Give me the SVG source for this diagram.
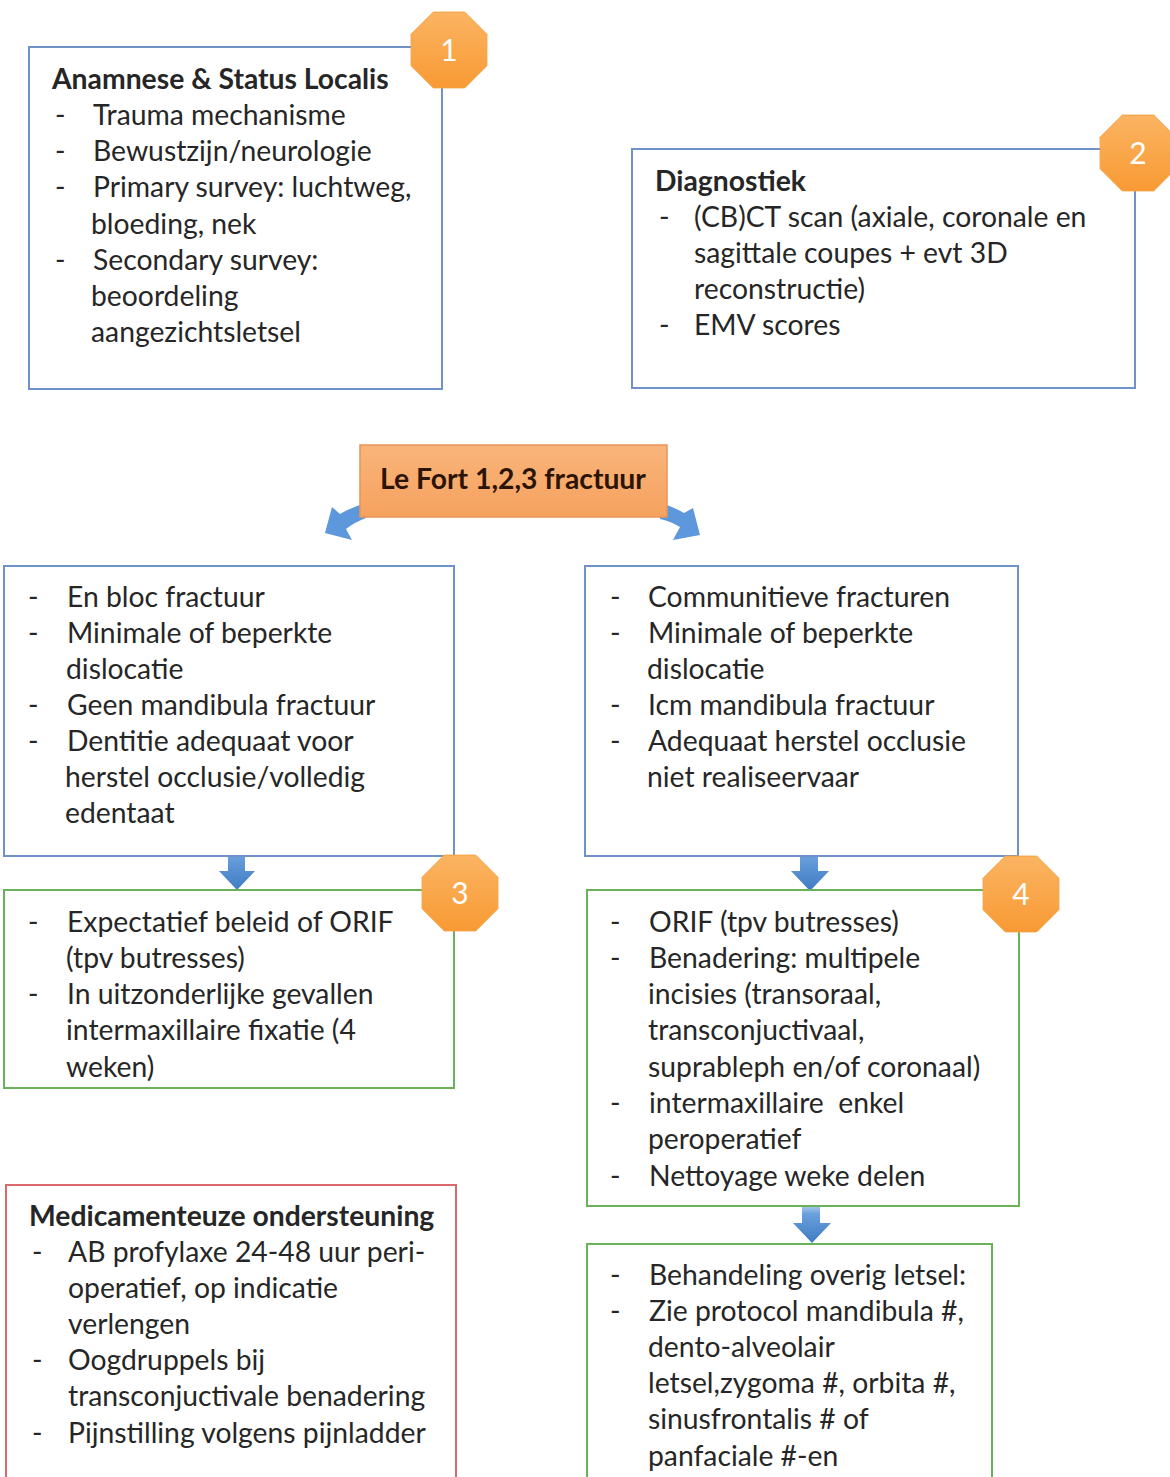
<svg xmlns="http://www.w3.org/2000/svg" width="1170" height="1477" viewBox="0 0 1170 1477">
<defs>
<style>
text{font-family:Lato,"Open Sans","Liberation Sans",sans-serif;font-size:28.3px;fill:#262626}
.b{font-weight:bold}
.box{fill:#fff;stroke-width:2}
.blue{stroke:#6f93c9}
.green{stroke:#6ab25a}
.red{stroke:#dd6a6a}
.num{font-size:30px;fill:#fff;text-anchor:middle}
.badge{fill:url(#og);stroke:#f5a040;stroke-width:1}
.arr{fill:url(#bg)}
.carr{fill:#5d98dc}
</style>
<linearGradient id="og" x1="0" y1="0" x2="0" y2="1"><stop offset="0" stop-color="#fbb462"/><stop offset="1" stop-color="#f89a34"/></linearGradient>
<linearGradient id="bg" x1="0" y1="0" x2="0" y2="1"><stop offset="0" stop-color="#8fb8e6" stop-opacity="0.3"/><stop offset="0.35" stop-color="#6aa0dc"/><stop offset="1" stop-color="#3f7cc4"/></linearGradient>
<linearGradient id="lg" x1="0" y1="0" x2="0" y2="1"><stop offset="0" stop-color="#f9b47a"/><stop offset="1" stop-color="#f6a25f"/></linearGradient>
<polygon id="oct" points="15.7,-37.9 37.9,-15.7 37.9,15.7 15.7,37.9 -15.7,37.9 -37.9,15.7 -37.9,-15.7 -15.7,-37.9"/>
</defs>
<rect width="1170" height="1477" fill="#fff"/>

<g id="connectors">
<path class="carr" d="M366,503 Q352,507 340,514 L332,507 L325,533 L352,540 L346,529 Q355,522 366,518 Z"/>
<path class="carr" d="M660,503 Q672,506 684,513 L693,508 L700,535 L673,540 L680,527 Q670,521 660,519 Z"/>
<path class="arr" d="M228,836 L245,836 L245,871 L255,871 L237,890 L219,871 L228,871 Z"/>
<path class="arr" d="M800,836 L818,836 L818,871 L829,871 L810,891 L791,871 L800,871 Z"/>
<path class="arr" d="M802,1198 L820,1198 L820,1223 L831,1223 L812,1243 L793,1223 L802,1223 Z"/>
</g>

<g id="box1">
<rect class="box blue" x="29" y="47" width="413" height="342"/>
<text class="b" x="52" y="89">Anamnese &amp; Status Localis</text>
<text x="55" y="125">-</text><text x="93" y="125">Trauma mechanisme</text>
<text x="55" y="161">-</text><text x="93" y="161">Bewustzijn/neurologie</text>
<text x="55" y="197">-</text><text x="93" y="197">Primary survey: luchtweg,</text>
<text x="91" y="234">bloeding, nek</text>
<text x="55" y="270">-</text><text x="93" y="270">Secondary survey:</text>
<text x="91" y="306">beoordeling</text>
<text x="91" y="342">aangezichtsletsel</text>
</g>
<g id="badge1"><use href="#oct" class="badge" transform="translate(449,50)"/><text class="num" x="449" y="61">1</text></g>

<g id="box2">
<rect class="box blue" x="632" y="149" width="503" height="239"/>
<text class="b" x="655" y="191">Diagnostiek</text>
<text x="659" y="227">-</text><text x="694" y="227">(CB)CT scan (axiale, coronale en</text>
<text x="694" y="263">sagittale coupes + evt 3D</text>
<text x="694" y="299">reconstructie)</text>
<text x="659" y="335">-</text><text x="694" y="335">EMV scores</text>
</g>
<g id="badge2"><use href="#oct" class="badge" transform="translate(1138,153)"/><text class="num" x="1138" y="164">2</text></g>

<g id="lefort">
<rect x="360" y="445" width="307" height="72" fill="url(#lg)" stroke="#e8955a" stroke-width="1.5"/>
<text class="b" x="513" y="489" text-anchor="middle" style="fill:#2b1406">Le Fort 1,2,3 fractuur</text>
</g>

<g id="box3">
<rect class="box blue" x="4" y="566" width="450" height="290"/>
<text x="28" y="607">-</text><text x="67" y="607">En bloc fractuur</text>
<text x="28" y="643">-</text><text x="67" y="643">Minimale of beperkte</text>
<text x="66" y="679">dislocatie</text>
<text x="28" y="715">-</text><text x="67" y="715">Geen mandibula fractuur</text>
<text x="28" y="751">-</text><text x="67" y="751">Dentitie adequaat voor</text>
<text x="65" y="787">herstel occlusie/volledig</text>
<text x="65" y="823">edentaat</text>
</g>

<g id="box4">
<rect class="box blue" x="585" y="566" width="433" height="290"/>
<text x="610" y="607">-</text><text x="648" y="607">Communitieve fracturen</text>
<text x="610" y="643">-</text><text x="648" y="643">Minimale of beperkte</text>
<text x="647" y="679">dislocatie</text>
<text x="610" y="715">-</text><text x="648" y="715">Icm mandibula fractuur</text>
<text x="610" y="751">-</text><text x="648" y="751">Adequaat herstel occlusie</text>
<text x="647" y="787">niet realiseervaar</text>
</g>

<g id="box5">
<rect class="box green" x="4" y="890" width="450" height="198"/>
<text x="28" y="932">-</text><text x="67" y="932">Expectatief beleid of ORIF</text>
<text x="66" y="968">(tpv butresses)</text>
<text x="28" y="1004">-</text><text x="67" y="1004">In uitzonderlijke gevallen</text>
<text x="66" y="1040">intermaxillaire fixatie (4</text>
<text x="66" y="1077">weken)</text>
</g>
<g id="badge3"><use href="#oct" class="badge" transform="translate(460,893)"/><text class="num" x="460" y="904">3</text></g>

<g id="box6">
<rect class="box green" x="587" y="890" width="432" height="316"/>
<text x="610" y="932">-</text><text x="649" y="932">ORIF (tpv butresses)</text>
<text x="610" y="968">-</text><text x="649" y="968">Benadering: multipele</text>
<text x="648" y="1004">incisies (transoraal,</text>
<text x="648" y="1040">transconjuctivaal,</text>
<text x="648" y="1077">suprableph en/of coronaal)</text>
<text x="610" y="1113">-</text><text x="649" y="1113" xml:space="preserve">intermaxillaire  enkel</text>
<text x="648" y="1149">peroperatief</text>
<text x="610" y="1186">-</text><text x="649" y="1186">Nettoyage weke delen</text>
</g>
<g id="badge4"><use href="#oct" class="badge" transform="translate(1021,894)"/><text class="num" x="1021" y="905">4</text></g>

<g id="box7">
<rect class="box green" x="587" y="1244" width="405" height="250"/>
<text x="610" y="1285">-</text><text x="649" y="1285">Behandeling overig letsel:</text>
<text x="610" y="1321">-</text><text x="649" y="1321">Zie protocol mandibula #,</text>
<text x="648" y="1357">dento-alveolair</text>
<text x="648" y="1393">letsel,zygoma #, orbita #,</text>
<text x="648" y="1429">sinusfrontalis # of</text>
<text x="648" y="1466">panfaciale #-en</text>
</g>

<g id="box8">
<rect class="box red" x="6" y="1185" width="450" height="310"/>
<text class="b" x="29" y="1226">Medicamenteuze ondersteuning</text>
<text x="32" y="1262">-</text><text x="68" y="1262">AB profylaxe 24-48 uur peri-</text>
<text x="68" y="1298">operatief, op indicatie</text>
<text x="68" y="1334">verlengen</text>
<text x="32" y="1370">-</text><text x="68" y="1370">Oogdruppels bij</text>
<text x="68" y="1406">transconjuctivale benadering</text>
<text x="32" y="1443">-</text><text x="68" y="1443">Pijnstilling volgens pijnladder</text>
</g>
</svg>
